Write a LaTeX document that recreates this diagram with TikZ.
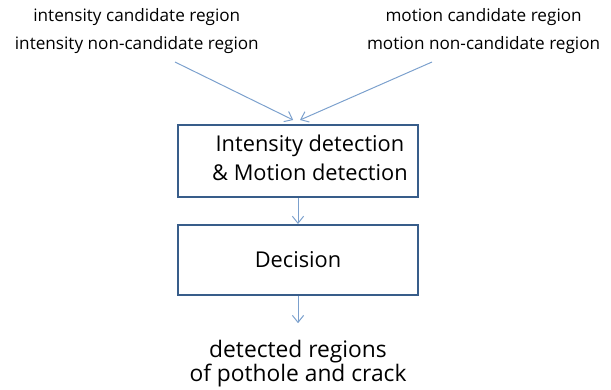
\documentclass[tikz,border=0pt]{standalone}
\usepackage{fontspec}
\setmainfont{Open Sans}
\usepackage{tikz}
\usetikzlibrary{arrows}
\usetikzlibrary{arrows.meta}
\usetikzlibrary{positioning}
\definecolor{boxblue}{HTML}{385D8A}
\definecolor{arrowblue}{HTML}{7BA0CD}
\tikzset{>={Straight Barb[length=5pt,width=8pt]}}
\tikzstyle{stage} = [rectangle, draw=boxblue, line width=1.4pt, minimum width=6cm, inner xsep=1pt, align=center, font=\fontsize{15.5}{20.5}\selectfont]
\tikzstyle{flow} = [->, draw=arrowblue, line width=0.7pt]
\tikzstyle{lbl} = [align=center, inner sep=0pt, font=\fontsize{12.2}{19.8}\selectfont]

\begin{document}
\begin{tikzpicture}
\useasboundingbox (0,0) rectangle (15.275,-9.725);
\node [lbl] (intlbl) at (3.42, -0.78) {intensity candidate region\\intensity non-candidate region};
\node [lbl] (motlbl) at (12.09, -0.78) {motion candidate region\\motion non-candidate region};
\coordinate (intsrc) at (4.375, -1.55);
\coordinate (motsrc) at (10.8, -1.55);
\node [stage, minimum height=1.8cm] (detect) at (7.45, -4.025) {\hspace*{17pt}Intensity detection\\ \hspace*{17pt}\& Motion detection\\[-16pt]};
\node [stage, minimum height=1.75cm] (decide) at (7.45, -6.5) {\raisebox{-3pt}{Decision}};
\node [align=center, inner sep=0pt, font=\fontsize{16.2}{17}\selectfont] (result) at (7.45, -9.1) {detected regions\\of pothole and crack};
\coordinate (intend) at (7.33, -3.0);
\coordinate (motend) at (7.5, -3.0);
\draw [flow] (intsrc) -- (intend);
\draw [flow] (motsrc) -- (motend);
\draw [flow] (detect) -- (decide);
\draw [flow] (decide.south) -- ++(0,-0.68);
\end{tikzpicture}
\end{document}
